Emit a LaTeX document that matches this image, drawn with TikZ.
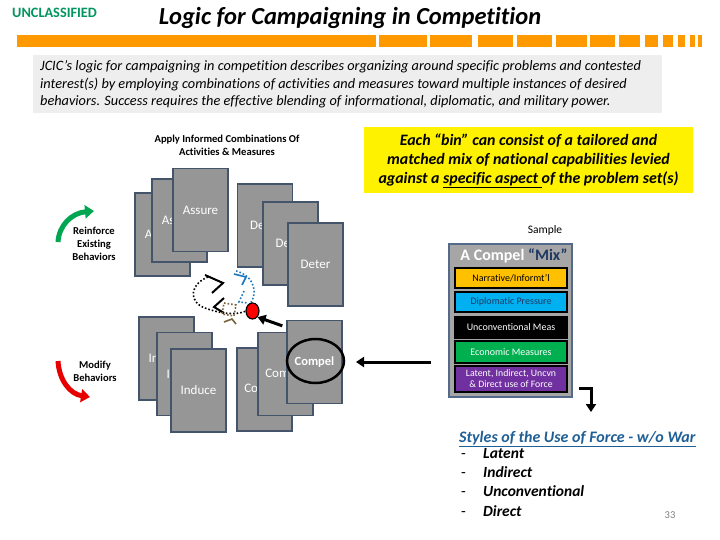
\documentclass[tikz,border=0pt]{standalone}
\usepackage{fontspec}
\setmainfont{Carlito}[RawFeature={-liga;-clig;-calt;-dlig}]
\usetikzlibrary{arrows.meta,shapes.geometric}
\definecolor{unclgreen}{RGB}{0,150,95}
\definecolor{barorange}{RGB}{255,153,0}
\definecolor{boxgrey}{RGB}{238,238,238}
\definecolor{cardgrey}{RGB}{150,150,150}
\definecolor{cardborder}{RGB}{68,84,106}
\definecolor{mixgrey}{RGB}{166,166,166}
\definecolor{mixborder}{RGB}{84,106,139}
\definecolor{navy}{RGB}{31,56,100}
\definecolor{narrorange}{RGB}{255,192,0}
\definecolor{diplblue}{RGB}{0,176,240}
\definecolor{econgreen}{RGB}{0,176,80}
\definecolor{forcepurple}{RGB}{112,48,160}
\definecolor{stylesblue}{RGB}{30,95,150}
\definecolor{arrowgreen}{RGB}{0,166,81}
\definecolor{arrowred}{RGB}{230,0,0}
\definecolor{squigblue}{RGB}{30,120,190}
\definecolor{squigbrown}{RGB}{120,100,60}
\begin{document}
\begin{tikzpicture}[x=1pt,y=-1pt,
  card/.style={draw=cardborder, fill=cardgrey, line width=1.3pt, minimum width=55pt, minimum height=83pt, inner sep=0pt, text=white, font=\fontsize{13}{15}\selectfont},
  mixrow/.style={draw=black, line width=2.4pt, minimum width=112pt, inner sep=0pt, font=\fontsize{10}{11}\selectfont},
  sidelabel/.style={font=\bfseries\fontsize{10.6}{13.2}\selectfont, align=center, inner sep=0pt},
  thickarrow/.style={line width=3pt, -{Triangle[length=8pt,width=10pt]}},
  curvedarrow/.style={line width=5pt, -{Triangle[length=9pt,width=13pt]}}
]
\useasboundingbox (0,0) rectangle (720,540);
\fill[white] (0,0) rectangle (720,540);

% header
\node[anchor=west, inner sep=0pt, text=unclgreen, font=\bfseries\fontsize{14.3}{16}\selectfont] (uncl) at (12,13) {UNCLASSIFIED};
\node[inner sep=0pt, font=\bfseries\itshape\fontsize{24.5}{28}\selectfont] (title) at (350,18) {Logic for Campaigning in Competition};

% orange bar
\fill[barorange] (17,35) rectangle (376,47.5);
\foreach \a/\b in {379/427,430/472,478/513,517/552,556/587,590/615,619/640,645/658,663/673,678/685,690/695,698/702}
  \fill[barorange] (\a,35) rectangle (\b,47.5);

% intro box
\node[fill=boxgrey, minimum width=629pt, minimum height=58pt, inner sep=0pt] (introbox) at (347.5,84) {};
\node[anchor=west, inner sep=0pt, align=left, font=\itshape\fontsize{14.3}{17.5}\selectfont] (intro) at (40,84.5)
 {JCIC’s logic for campaigning in competition describes organizing around specific problems and contested\\
  interest(s) by employing combinations of activities and measures toward multiple instances of desired\\
  behaviors. Success requires the effective blending of informational, diplomatic, and military power.};

% left heading
\node[sidelabel] (apply) at (227,145) {Apply Informed Combinations Of\\Activities \& Measures};

% cards
\node[card] (a1) at (162.5,234.5) {Assure};
\node[card] (a2) at (179.5,220.5) {Assure};
\node[card] (a3) at (200.5,210) {Assure};
\node[card] (d1) at (265,225.5) {Deter};
\node[card] (d2) at (290.5,243.5) {Deter};
\node[card] (d3) at (315.5,264.5) {Deter};
\node[card] (i1) at (166.5,358.5) {Induce};
\node[card] (i2) at (184.5,374) {Induce};
\node[card] (i3) at (198.5,390.5) {Induce};
\node[card] (c1) at (264.5,389.5) {Compel};
\node[card] (c2) at (285.5,374) {Compel};
\node[card, font=\bfseries\fontsize{12.5}{14}\selectfont] (c3) at (314.5,362) {Compel};
\node[draw=black, line width=2.5pt, ellipse, minimum width=57pt, minimum height=44pt, inner sep=0pt] (ring) at (315.5,361) {};

% side labels and curved arrows
\node[sidelabel] (reinforce) at (94,244) {Reinforce\\Existing\\Behaviors};
\node[sidelabel] (modify) at (95,371.5) {Modify\\Behaviors};
\coordinate (ga) at (58,242);
\coordinate (gb) at (94,211);
\draw[curvedarrow, arrowgreen] (ga) .. controls (59,225) and (72,213) .. (gb);
\coordinate (ra) at (58,361);
\coordinate (rb) at (90,397);
\draw[curvedarrow, arrowred] (ra) .. controls (59,380) and (70,394) .. (rb);

% squiggle near the centre
\draw[black, dotted, line width=1.6pt] (208,277) .. controls (190,284) and (188,302) .. (205,308) .. controls (218,313) and (235,316) .. (246,311);
\draw[black, line width=2pt] (205,275) -- (223,283) -- (212,293);
\draw[squigblue, dotted, line width=1.6pt] (236,271) .. controls (256,276) and (258,296) .. (249,305);
\draw[squigblue, line width=1.6pt] (234,274) -- (246,277) -- (242,285);
\draw[squigblue, dotted, line width=1.6pt] (244,291) -- (239,302) -- (248,303);
\draw[black, line width=2pt] (224,298) -- (214,307) -- (224,313);
\draw[squigbrown, dotted, line width=1.6pt] (224,303) -- (236,305) -- (234,316) -- (222,314) -- cycle;
\draw[squigbrown, line width=1.6pt] (224,322) -- (232,319) -- (236,324);
\node[draw=black, fill=red, line width=1.2pt, ellipse, minimum width=13pt, minimum height=16pt, inner sep=0pt] (dot) at (252.5,311) {};
\draw[thickarrow] (c3.north west) ++(-4,6) coordinate (ka) (ka) -- (dot.south east);

% yellow note
\node[fill=yellow, minimum width=329pt, minimum height=66pt, inner sep=0pt] (ybox) at (528.5,160) {};
\node[align=center, inner sep=0pt, font=\bfseries\itshape\fontsize{15.9}{19}\selectfont] (ytext) at (528.5,161)
 {Each “bin” can consist of a tailored and\\
  matched mix of national capabilities levied\\
  against a \underline{specific aspect }of the problem set(s)};

% sample mix
\node[inner sep=0pt, font=\fontsize{11.5}{13}\selectfont] (sample) at (545,230) {Sample};
\node[draw=mixborder, fill=mixgrey, line width=2pt, minimum width=123pt, minimum height=153pt, inner sep=0pt] (mix) at (510.5,320.5) {};
\node[inner sep=0pt, font=\bfseries\fontsize{16}{18}\selectfont] (mixhead) at (514,256) {\textcolor{white}{A Compel} \textcolor{navy}{“Mix”}};
\node[mixrow, fill=narrorange, minimum height=20pt, text=black] (narr) at (511,278) {Narrative/Informt’l};
\node[mixrow, fill=diplblue, minimum height=20pt, text=navy] (dipl) at (511,302) {Diplomatic Pressure};
\node[mixrow, fill=black, minimum height=21pt, text=white] (uncon) at (511,327.5) {Unconventional Meas};
\node[mixrow, fill=econgreen, minimum height=22pt, text=white] (econ) at (511,352) {Economic Measures};
\node[mixrow, fill=forcepurple, minimum height=26pt, text=white, align=center, font=\fontsize{9.8}{11}\selectfont] (force) at (511,379) {Latent, Indirect, Uncvn\\\& Direct use of Force};

% arrows
\coordinate (la) at (431,362);
\coordinate (lb) at (356,362);
\draw[thickarrow] (la) -- (lb);
\coordinate (ba) at (579,388);
\coordinate (bb) at (591,388);
\coordinate (bc) at (591,412);
\draw[thickarrow] (ba) -- (bb) -- (bc);

% styles list
\node[anchor=west, inner sep=0pt, text=stylesblue, font=\bfseries\itshape\fontsize{16}{18}\selectfont] (styles) at (459,439) {\underline{Styles of the Use of Force - w/o War}};
\node[anchor=north west, inner sep=0pt, align=left, font=\bfseries\itshape\fontsize{15.5}{19.3}\selectfont] (list) at (461,448)
 {\makebox[22pt][l]{\mdseries\upshape -}Latent\\
  \makebox[22pt][l]{\mdseries\upshape -}Indirect\\
  \makebox[22pt][l]{\mdseries\upshape -}Unconventional\\
  \makebox[22pt][l]{\mdseries\upshape -}Direct};
\node[inner sep=0pt, text=gray, font=\fontsize{10.5}{12}\selectfont] (pagenum) at (670,515) {33};
\end{tikzpicture}
\end{document}
